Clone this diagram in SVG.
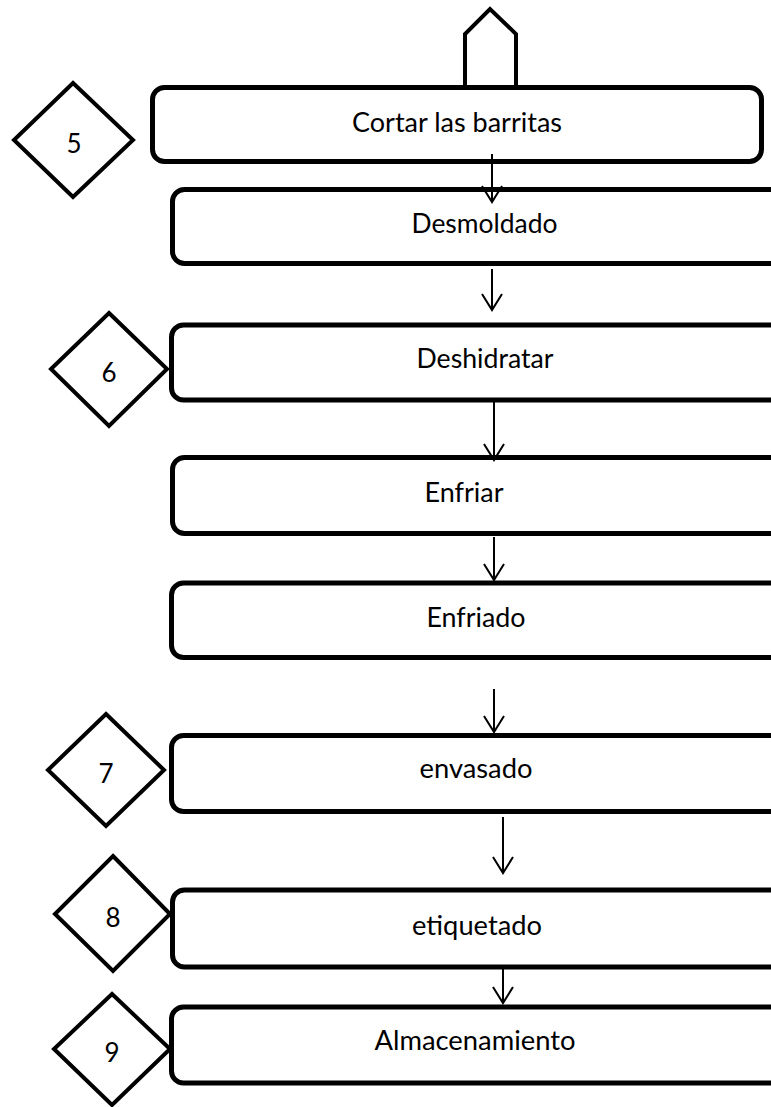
<svg xmlns="http://www.w3.org/2000/svg" width="771" height="1107" viewBox="0 0 771 1107">
<style>
.box{fill:#fff;stroke:#000;stroke-width:5}
.dia{fill:#fff;stroke:#000;stroke-width:4;stroke-linejoin:miter}
.t{font-family:Lato,"Open Sans",sans-serif;font-size:26px;fill:#000;text-anchor:middle}
.c{stroke:#000;stroke-width:2;fill:none}
</style>
<defs>
<marker id="ah" markerWidth="20" markerHeight="24" refX="17" refY="11" orient="auto" markerUnits="userSpaceOnUse" viewBox="0 0 20 22">
<path d="M1,1 L17,11 L1,21" fill="none" stroke="#000" stroke-width="2"/>
</marker>
</defs>
<rect width="771" height="1107" fill="#fff"/>
<g id="start"><path class="dia" d="M465,86 L465,34 L490,9 L516,34 L516,86"/></g>
<g id="n1"><rect class="box" x="152.5" y="87.5" width="609" height="74" rx="12"/><text class="t" x="457" y="132" textLength="210" lengthAdjust="spacingAndGlyphs">Cortar las barritas</text></g>
<g id="d5"><polygon class="dia" points="73,83 133,140 73,197 14,140"/><text class="t" x="74" y="153">5</text></g>
<g id="n2"><rect class="box" x="172.5" y="189.5" width="620" height="74" rx="12"/><text class="t" x="484.5" y="233" textLength="146" lengthAdjust="spacingAndGlyphs">Desmoldado</text></g>
<g id="n3"><rect class="box" x="171.5" y="325" width="620" height="75" rx="12"/><text class="t" x="485" y="368" textLength="137" lengthAdjust="spacingAndGlyphs">Deshidratar</text></g>
<g id="d6"><polygon class="dia" points="109,313 167,369 109,426 51,369"/><text class="t" x="109" y="382">6</text></g>
<g id="n4"><rect class="box" x="172.5" y="457.5" width="620" height="76" rx="12"/><text class="t" x="464" y="502" textLength="79" lengthAdjust="spacingAndGlyphs">Enfriar</text></g>
<g id="n5"><rect class="box" x="171.5" y="583" width="620" height="74.5" rx="12"/><text class="t" x="476" y="627" textLength="99" lengthAdjust="spacingAndGlyphs">Enfriado</text></g>
<g id="n6"><rect class="box" x="171.5" y="735.5" width="620" height="76" rx="12"/><text class="t" x="476" y="778" textLength="113" lengthAdjust="spacingAndGlyphs">envasado</text></g>
<g id="d7"><polygon class="dia" points="106,714 164,770 106,826 48,770"/><text class="t" x="106" y="783">7</text></g>
<g id="n7"><rect class="box" x="172.5" y="890" width="620" height="77" rx="12"/><text class="t" x="477" y="935" textLength="130" lengthAdjust="spacingAndGlyphs">etiquetado</text></g>
<g id="d8"><polygon class="dia" points="113,856 170,914 113,971 55,914"/><text class="t" x="113" y="927">8</text></g>
<g id="n8"><rect class="box" x="171.5" y="1007" width="620" height="76" rx="12"/><text class="t" x="475" y="1050" textLength="201" lengthAdjust="spacingAndGlyphs">Almacenamiento</text></g>
<g id="d9"><polygon class="dia" points="112,994 170,1049 112,1105 54,1049"/><text class="t" x="112" y="1062">9</text></g>
<g id="connectors">
<line class="c" x1="492" y1="154" x2="492" y2="202" marker-end="url(#ah)"/>
<line class="c" x1="492" y1="269" x2="492" y2="310" marker-end="url(#ah)"/>
<line class="c" x1="494" y1="402" x2="494" y2="460" marker-end="url(#ah)"/>
<line class="c" x1="494" y1="537" x2="494" y2="580" marker-end="url(#ah)"/>
<line class="c" x1="494" y1="689" x2="494" y2="732" marker-end="url(#ah)"/>
<line class="c" x1="503" y1="817" x2="503" y2="873" marker-end="url(#ah)"/>
<line class="c" x1="503" y1="969" x2="503" y2="1003" marker-end="url(#ah)"/>
</g>
</svg>
